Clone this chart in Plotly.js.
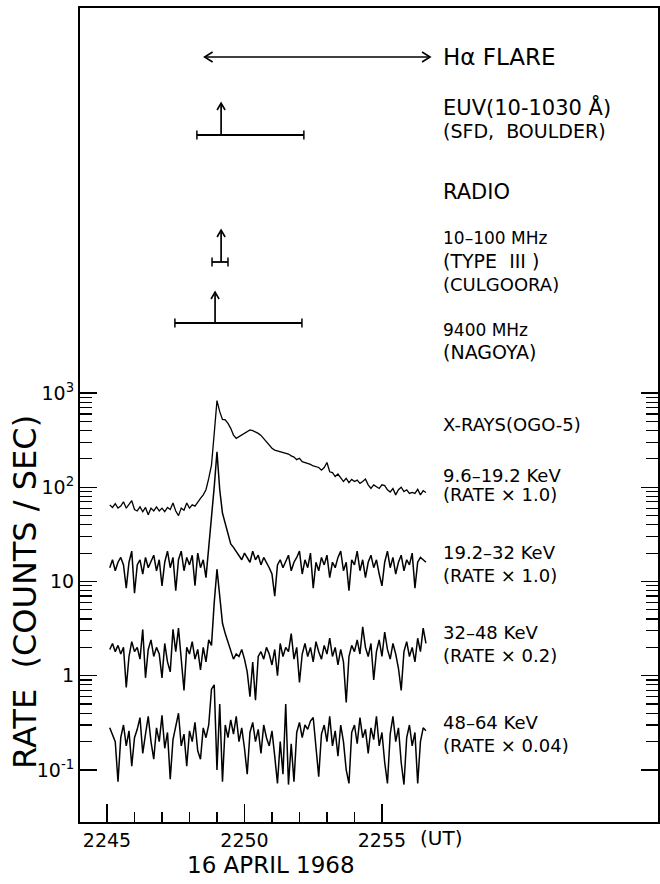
<!DOCTYPE html>
<html><head><meta charset="utf-8">
<script src="https://cdn.plot.ly/plotly-3.0.1.min.js"></script>
<style>html,body{margin:0;padding:0;background:#fff;} #chart{width:660px;height:884px;}</style>
</head><body><div id="chart"></div>
<script>
// ---- sampling (UT, minutes as HHMM within hour 22) ----
const t0 = 2245.1, dt = 0.1;

// ---- OGO-5 X-ray count rates (counts/sec, already scaled) ----
const rate9_6 = [65,61,67,60,63,70,60,65,72,58,
 56,62,55,61,51,60,56,62,56,60,
 55,61,58,68,56,50,60,57,68,60,
 65,63,70,76,83,94,124,172,373,829,
 634,525,518,476,422,358,330,344,358,373,
 389,405,398,389,373,355,330,305,281,259,
 248,244,239,235,229,225,215,209,196,203,
 187,183,180,175,168,165,162,152,162,183,
 146,143,130,138,127,115,124,112,121,115,
 119,110,115,122,106,97,106,102,97,106,
 104,94,89,97,83,94,100,90,94,86,
 88,86,95,83,92,88];
const rate19_2 = [14,17,13,16,18,15,8.5,16,21,7.5,
 15,17,12,18,14,16,19,13,17,9,
 16,21,14,18,8,17,21,13,18,15,
 19,9,20,14,17,11,22,46,101,238,
 94,53,41,32,25,23,21,19,17,20,
 18,16,21,17,19,15,18,16,14,12,
 7,15,17,14,16,19,13,16,18,21,
 12,17,14,20,8.5,16,13,18,15,19,
 11,16,14,18,21,13,16,8,17,15,
 21,13,17,11,16,19,14,17,12,9,
 16,21,14,18,12,16,19,13,17,15,
 20,8.5,16,18,17,16];
const rate32 = [1.9,2.2,1.8,2.1,1.7,2.0,0.75,1.6,2.3,1.8,
 2.0,1.5,3.1,0.95,1.9,2.4,1.6,2.0,1.7,0.95,
 2.2,1.4,1.1,3.1,1.8,3.2,1.5,0.7,2.0,1.7,
 2.3,1.5,1.9,1.15,2.0,1.4,2.4,2.1,6,13.5,
 7,3.6,2.8,2.3,1.9,1.5,1.7,1.6,1.9,1.5,
 1.1,0.6,1.4,0.55,1.6,1.8,1.5,2.0,1.7,1.3,
 1.9,1.0,2.2,1.6,2.0,1.8,2.8,1.5,2.0,0.85,
 1.7,2.2,1.6,2.0,1.4,2.3,1.8,1.5,2.1,1.7,
 2.5,1.6,2.0,1.3,1.9,1.4,0.52,1.6,2.1,1.8,
 2.4,1.7,3.3,2.0,1.6,2.2,0.9,1.8,2.4,1.6,
 2.9,1.9,1.5,2.2,1.7,1.2,0.7,1.8,2.3,1.6,
 2.0,1.4,2.5,1.8,3.2,2.2];
const rate48 = [0.28,0.24,0.2,0.075,0.22,0.3,0.18,0.26,0.11,0.22,
 0.27,0.36,0.15,0.24,0.37,0.2,0.13,0.28,0.2,0.38,
 0.17,0.25,0.08,0.21,0.3,0.4,0.18,0.24,0.11,0.26,
 0.2,0.32,0.16,0.13,0.28,0.22,0.3,0.72,0.8,0.1,
 0.5,0.075,0.3,0.22,0.34,0.24,0.37,0.2,0.28,0.17,
 0.09,0.25,0.32,0.2,0.27,0.15,0.3,0.22,0.18,0.26,
 0.14,0.072,0.2,0.09,0.5,0.07,0.19,0.075,0.25,0.32,
 0.22,0.3,0.27,0.33,0.36,0.16,0.085,0.24,0.3,0.2,
 0.37,0.18,0.26,0.14,0.3,0.2,0.1,0.072,0.25,0.3,
 0.19,0.36,0.22,0.27,0.15,0.28,0.21,0.37,0.18,0.25,
 0.12,0.072,0.24,0.37,0.2,0.28,0.12,0.07,0.22,0.3,
 0.18,0.25,0.072,0.2,0.28,0.26];

// ---- event timing (UT) ----
const eventNames  = ['H\u03b1 FLARE', 'EUV', 'RADIO 10-100 MHz', 'RADIO 9400 MHz'];
const eventStart  = [2248.55, 2248.27, 2248.82, 2247.47];
const eventEnd    = [2256.75, 2252.16, 2249.40, 2252.09];
const eventOnset  = [null, 2249.15, 2249.15, 2248.93];

// ---- axis ticks ----
const xMajor = [2245, 2250, 2255];
const xMajorText = ['2245', '2250', '2255'];
const xMinor = [2246, 2247, 2248, 2249, 2251, 2252, 2253, 2254];
const yMajor = [0.1, 1, 10, 100, 1000];
const yMajorText = ['10<sup>-1</sup>', '1', '10', '10<sup>2</sup>', '10<sup>3</sup>'];

// ---- right-hand labels ----
const labelTexts = ['H\u03b1 FLARE', 'EUV(10-1030 \u00c5)', '(SFD,  BOULDER)', 'RADIO',
  '10\u2013100 MHz', '(TYPE  III )', '(CULGOORA)', '9400 MHz', '(NAGOYA)',
  'X-RAYS(OGO-5)', '9.6\u201319.2 KeV', '(RATE \u00d7 1.0)', '19.2\u201332 KeV', '(RATE \u00d7 1.0)',
  '32\u201348 KeV', '(RATE \u00d7 0.2)', '48\u201364 KeV', '(RATE \u00d7 0.04)'];

// ---------------- layout helpers ----------------
const W = 660, H = 884, L = 80, R = 2, T = 8, B = 62;
const plotH = H - T - B, plotW = W - L - R;
const py = v => (H - B - v) / plotH;     // pixel row -> paper y
const px = v => (v - L) / plotW;         // pixel col -> paper x
const FONT = 'DejaVu Sans, Liberation Sans, sans-serif';

const t = rate9_6.map((_, i) => +(t0 + dt * i).toFixed(2));
const widths = [1.3, 1.5, 1.5, 1.5];
const traces = [rate9_6, rate19_2, rate32, rate48].map((y, k) => ({
  x: t, y: y, type: 'scatter', mode: 'lines', line: {color: '#000', width: widths[k]}, showlegend: false, hoverinfo: 'skip'
}));

const shapes = [];
const annotations = [];
const blk = w => ({color: '#000', width: w});
// head: chevron drawn in pixels around a data-anchored point
const head = (xData, yPaper, path) => ({type: 'path', xref: 'x', yref: 'paper', xsizemode: 'pixel', ysizemode: 'pixel',
  xanchor: xData, yanchor: yPaper, path: path, line: blk(1.6)});

// event bars with onset arrows
const barRow = [null, 135, 262, 323];
const tipRow = [null, 103, 230, 292];
for (let i = 1; i < eventNames.length; i++) {
  const yb = py(barRow[i]), cap = 4.5 / plotH;
  shapes.push({type: 'line', xref: 'x', yref: 'paper', x0: eventStart[i], x1: eventEnd[i], y0: yb, y1: yb, line: blk(1.8)});
  [eventStart[i], eventEnd[i]].forEach(xx => shapes.push({type: 'line', xref: 'x', yref: 'paper', x0: xx, x1: xx, y0: yb - cap, y1: yb + cap, line: blk(1.5)}));
  shapes.push({type: 'line', xref: 'x', yref: 'paper', x0: eventOnset[i], x1: eventOnset[i], y0: yb, y1: py(tipRow[i]), line: blk(1.7)});
  shapes.push(head(eventOnset[i], py(tipRow[i]), 'M -4,-7 L 0,0 L 4,-7'));
}
// H-alpha double arrow
const yHa = py(57);
shapes.push({type: 'line', xref: 'x', yref: 'paper', x0: eventStart[0], x1: eventEnd[0], y0: yHa, y1: yHa, line: blk(1.6)});
shapes.push(head(eventStart[0], yHa, 'M 8,5 L 0,0 L 8,-5'));
shapes.push(head(eventEnd[0], yHa, 'M -8,5 L 0,0 L -8,-5'));

// right labels
const labelRow = [57, 107, 131, 192, 238, 261, 285, 330, 352, 425, 475, 495, 552, 575, 632, 655, 722, 745];
const labelSize = [23, 21, 19, 21, 17, 19, 18, 17, 19, 18, 18, 18, 18, 18, 18, 18, 18, 18];
labelTexts.forEach((s, i) => annotations.push({xref: 'paper', yref: 'paper', x: px(441), y: py(labelRow[i]),
  xanchor: 'left', yanchor: 'middle', text: s, showarrow: false, font: {family: FONT, size: labelSize[i], color: '#000'}}));

// axis captions
annotations.push({xref: 'paper', yref: 'paper', x: px(418), y: py(838), xanchor: 'left', yanchor: 'middle',
  text: '(UT)', showarrow: false, font: {family: FONT, size: 20, color: '#000'}});
annotations.push({xref: 'paper', yref: 'paper', x: px(271), y: py(865), xanchor: 'center', yanchor: 'middle',
  text: '16 APRIL 1968', showarrow: false, font: {family: FONT, size: 23, color: '#000'}});
annotations.push({xref: 'paper', yref: 'paper', x: px(25), y: py(592), xanchor: 'center', yanchor: 'middle', textangle: -90,
  text: 'RATE  (COUNTS / SEC)', showarrow: false, font: {family: FONT, size: 32, color: '#000'}});

const yMinor = [];
[0.1, 1, 10, 100].forEach(d => { for (let k = 2; k <= 9; k++) yMinor.push(+(d * k).toPrecision(3)); });

const layout = {
  width: W, height: H, margin: {l: L, r: R, t: T, b: B, pad: 0},
  paper_bgcolor: '#fff', plot_bgcolor: '#fff', showlegend: false,
  font: {family: FONT, color: '#000'},
  xaxis: {range: [2244.018, 2265.04], tickmode: 'array', tickvals: xMajor, ticktext: xMajorText,
    ticks: 'inside', ticklen: 18, tickwidth: 1.4, tickcolor: '#000',
    showline: true, linewidth: 2, linecolor: '#000', mirror: true, showgrid: false, zeroline: false,
    tickfont: {family: FONT, size: 19, color: '#000'},
    minor: {tickmode: 'array', tickvals: xMinor, ticks: 'inside', ticklen: 10, tickwidth: 1.3, tickcolor: '#000', showgrid: false}},
  yaxis: {type: 'log', range: [-1.552, 7.085], tickmode: 'array', tickvals: yMajor, ticktext: yMajorText,
    ticks: 'inside', ticklen: 17, tickwidth: 1.3, tickcolor: '#000',
    showline: true, linewidth: 2, linecolor: '#000', mirror: 'ticks', showgrid: false, zeroline: false,
    tickfont: {family: FONT, size: 19, color: '#000'},
    minor: {tickmode: 'array', tickvals: yMinor, ticks: 'inside', ticklen: 12, tickwidth: 1.2, tickcolor: '#000', showgrid: false}},
  shapes: shapes, annotations: annotations
};

Plotly.newPlot('chart', traces, layout, {staticPlot: true, displayModeBar: false});
</script></body></html>
